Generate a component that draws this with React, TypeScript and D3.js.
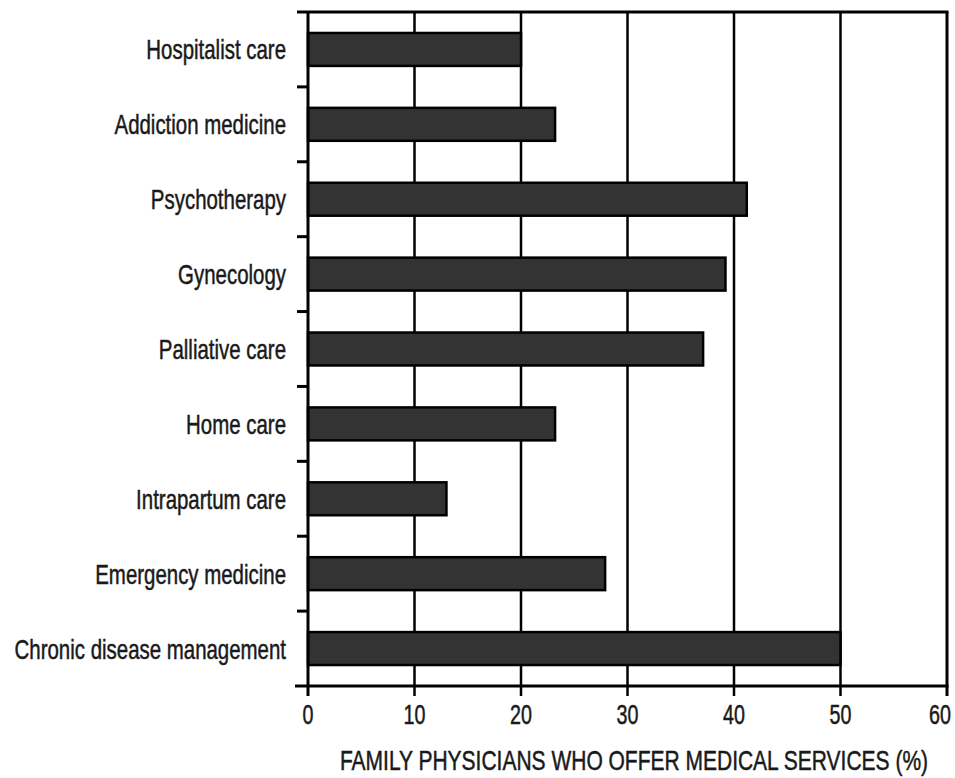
import React, { useEffect, useRef } from "react";
import * as d3 from "d3";

const categories = [
  "Hospitalist care",
  "Addiction medicine",
  "Psychotherapy",
  "Gynecology",
  "Palliative care",
  "Home care",
  "Intrapartum care",
  "Emergency medicine",
  "Chronic disease management",
];
const values = [20, 23.2, 41.2, 39.2, 37.1, 23.2, 13, 27.9, 50];
const xTicks = [0, 10, 20, 30, 40, 50, 60];
const axisTitle = "FAMILY PHYSICIANS WHO OFFER MEDICAL SERVICES (%)";

const W = 955;
const H = 778;
const FONT = "'Liberation Sans', Arial, sans-serif";
const SX = 0.73;

export default function App() {
  const ref = useRef<SVGSVGElement>(null);
  useEffect(() => {
    const svg = d3.select(ref.current);
    svg.selectAll("*").remove();
    const left = 308, right = 947, top = 12, bottom = 686;
    const x = d3.scaleLinear().domain([0, 60]).range([left, right]);
    const y = d3.scaleBand<string>().domain(categories).range([top, bottom]).paddingInner(0.56).paddingOuter(0.28);
    const step = y.step();
    const bandTop = (c: string) => (y(c) as number) - step * 0.56 / 2;

    const g = svg.append("g");
    // gridlines
    g.selectAll("line.grid").data(xTicks.filter(t => t > 0 && t < 60)).join("line")
      .attr("x1", d => x(d)).attr("x2", d => x(d)).attr("y1", top).attr("y2", bottom)
      .attr("stroke", "#000").attr("stroke-width", 2.5);

    // bars
    g.selectAll("rect.bar").data(categories).join("rect")
      .attr("x", x(0)).attr("y", d => y(d) as number)
      .attr("width", (d, i) => x(values[i]) - x(0)).attr("height", y.bandwidth())
      .attr("fill", "#333").attr("stroke", "#000").attr("stroke-width", 2.5);

    // frame
    g.append("line").attr("x1", left - 11).attr("x2", right + 1.5).attr("y1", top).attr("y2", top).attr("stroke", "#000").attr("stroke-width", 3);
    g.append("line").attr("x1", left - 13).attr("x2", right + 1.5).attr("y1", bottom).attr("y2", bottom).attr("stroke", "#000").attr("stroke-width", 3);
    g.append("line").attr("x1", left).attr("x2", left).attr("y1", top).attr("y2", bottom + 10).attr("stroke", "#000").attr("stroke-width", 3);
    g.append("line").attr("x1", right).attr("x2", right).attr("y1", top).attr("y2", bottom + 10).attr("stroke", "#000").attr("stroke-width", 3);

    // y ticks at band boundaries
    const bounds = categories.slice(1).map(c => bandTop(c));
    g.selectAll("line.ytick").data(bounds).join("line")
      .attr("x1", left - 11).attr("x2", left).attr("y1", d => d).attr("y2", d => d)
      .attr("stroke", "#000").attr("stroke-width", 3);

    // x ticks
    g.selectAll("line.xtick").data(xTicks.filter(t => t > 0 && t < 60)).join("line")
      .attr("x1", d => x(d)).attr("x2", d => x(d)).attr("y1", bottom).attr("y2", bottom + 10)
      .attr("stroke", "#000").attr("stroke-width", 2.5);

    const txt = (sel: any, size: number) =>
      sel.attr("font-family", FONT).attr("font-size", size).attr("fill", "#1a1a1a")
        .attr("stroke", "#1a1a1a").attr("stroke-width", 0.5);

    // x tick labels
    txt(g.selectAll("text.xl").data(xTicks).join("text")
      .attr("transform", (d: number) => `translate(${Math.min(x(d), W - 15)},724) scale(${SX},1)`)
      .attr("text-anchor", "middle")
      .text((d: number) => String(d)), 27);

    // category labels
    txt(g.selectAll("text.yl").data(categories).join("text")
      .attr("transform", (d: string) => `translate(286,${(y(d) as number) + y.bandwidth() / 2 + 10}) scale(${SX},1)`)
      .attr("text-anchor", "end")
      .text((d: string) => d), 28);

    // axis title
    txt(g.append("text")
      .attr("transform", `translate(634,770) scale(0.75,1)`)
      .attr("text-anchor", "middle")
      .text(axisTitle), 28);
  }, []);
  return (
    <svg ref={ref} width={W} height={H} style={{ position: "absolute", left: 0, top: 0, background: "#fff" }} />
  );
}
